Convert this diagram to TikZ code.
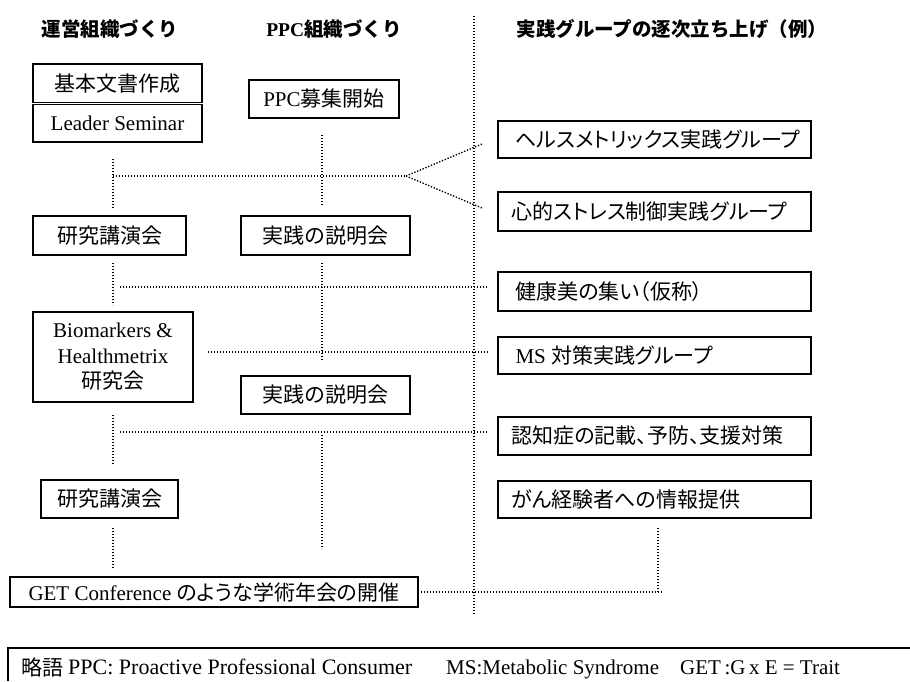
\documentclass[tikz,border=0pt]{standalone}
\usepackage{fontspec}
\setmainfont{Liberation Serif}
\newfontfamily\jp[RawFeature=+palt]{Noto Sans CJK JP}
\newfontfamily\jph{Noto Sans CJK JP}
\newcommand\bxf{\fontsize{21}{25.5}\selectfont}
\newcommand\hdf{\fontsize{19.5}{22}\selectfont\bfseries}
\begin{document}
\begin{tikzpicture}[x=1pt,y=-1pt,
  box/.style={draw, line width=1.3pt, inner sep=0pt, font=\bxf},
  rbox/.style={box, minimum width=313pt},
  rtxt/.style={anchor=west, inner sep=0pt, font=\bxf\jp},
  dl/.style={line width=1.4pt, dash pattern=on 1.3pt off 1.7pt},
  hd/.style={font=\hdf, inner sep=0pt},
  lg/.style={anchor=base west, inner sep=0pt, font=\fontsize{21}{24}\selectfont}]
\useasboundingbox (0,0) rectangle (910,681);

% headers
\node[hd] (h1) at (110,29) {\jph 運営組織づくり};
\node[hd] (h2) at (334,29) {PPC{\jph 組織づくり}};
\node[hd] (h3) at (672,29) {\jph 実践グループの逐次立ち上げ（例）};

% left and middle column boxes
\node[box, minimum width=169pt, minimum height=38.5pt] (b1) at (117.5,83.25) {\jp 基本文書作成};
\node[box, minimum width=169pt, minimum height=37.5pt] (b2) at (117.5,123.25) {Leader Seminar};
\node[box, minimum width=150pt, minimum height=38pt] (b3) at (324,99) {PPC{\jp 募集開始}};
\node[box, minimum width=153pt, minimum height=39pt] (b4) at (109.5,235.5) {\jp 研究講演会};
\node[box, minimum width=169pt, minimum height=39pt] (b5) at (325.5,235.5) {\jp 実践の説明会};
\node[box, minimum width=160pt, minimum height=90pt, align=center] (b6) at (113,357) {Biomarkers \&\\Healthmetrix\\{\jp 研究会}};
\node[box, minimum width=169pt, minimum height=38pt] (b7) at (325.5,395) {\jp 実践の説明会};
\node[box, minimum width=137pt, minimum height=38pt] (b8) at (109.5,499) {\jp 研究講演会};
\node[box, minimum width=408pt, minimum height=30pt] (b9) at (214,592) {GET Conference {\jp のような学術年会の開催}};

% right column boxes
\node[rbox, minimum height=37pt] (r1) at (654.5,139.5) {};
\node[rbox, minimum height=39pt] (r2) at (654.5,211.5) {};
\node[rbox, minimum height=39pt] (r3) at (654.5,291.5) {};
\node[rbox, minimum height=37pt] (r4) at (654.5,355.5) {};
\node[rbox, minimum height=38pt] (r5) at (654.5,436) {};
\node[rbox, minimum height=37pt] (r6) at (654.5,499.5) {};
\node[rtxt] (t1) at ([xshift=18pt]r1.west) {ヘルスメトリックス実践グループ};
\node[rtxt] (t2) at ([xshift=14pt]r2.west) {心的ストレス制御実践グループ};
\node[rtxt] (t3) at ([xshift=18pt]r3.west) {健康美の集い（仮称）};
\node[rtxt, font=\bxf] (t4) at ([xshift=18pt]r4.west) {MS {\jp 対策実践グループ}};
\node[rtxt] (t5) at ([xshift=14pt]r5.west) {認知症の記載、予防、支援対策};
\node[rtxt] (t6) at ([xshift=14pt]r6.west) {がん経験者への情報提供};

% dotted connectors
\coordinate (ctop) at (474,16);
\coordinate (cbot) at (474,615);
\draw[dl] (ctop) -- (cbot);

\coordinate (j1) at (406,176);
\coordinate (e1) at (482,144);
\coordinate (e2) at (482,208);
\draw[dl] (113,159) -- (113,209);
\draw[dl] (113,176) -- (j1);
\draw[dl] (j1) -- (e1);
\draw[dl] (j1) -- (e2);
\draw[dl] (322,135) -- (322,206);

\draw[dl] (113,263) -- (113,305);
\draw[dl] (120,287) -- (488,287);
\draw[dl] (322,263) -- (322,361);
\draw[dl] (208,352) -- (488,352);

\draw[dl] (120,432) -- (488,432);
\draw[dl] (113,415) -- (113,464);
\draw[dl] (322,435) -- (322,549);
\draw[dl] (113,528) -- (113,568);

\coordinate (g1) at (662,592);
\draw[dl] ([xshift=2pt]b9.east) -- (g1);
\draw[dl] (658,592) -- (658,527);

% legend
\draw[line width=1.3pt] (8,681) -- (8,648) -- (910,648);
\node[lg] (l1) at (21,675) {\jp 略語};
\node[lg, font=\fontsize{22}{24}\selectfont] (l2) at (68,674) {PPC: Proactive Professional Consumer};
\node[lg] (l3) at (446,674) {MS:Metabolic Syndrome};
\node[lg] (l4) at (680,674) {GET\,:G\,x E = Trait};
\end{tikzpicture}
\end{document}
